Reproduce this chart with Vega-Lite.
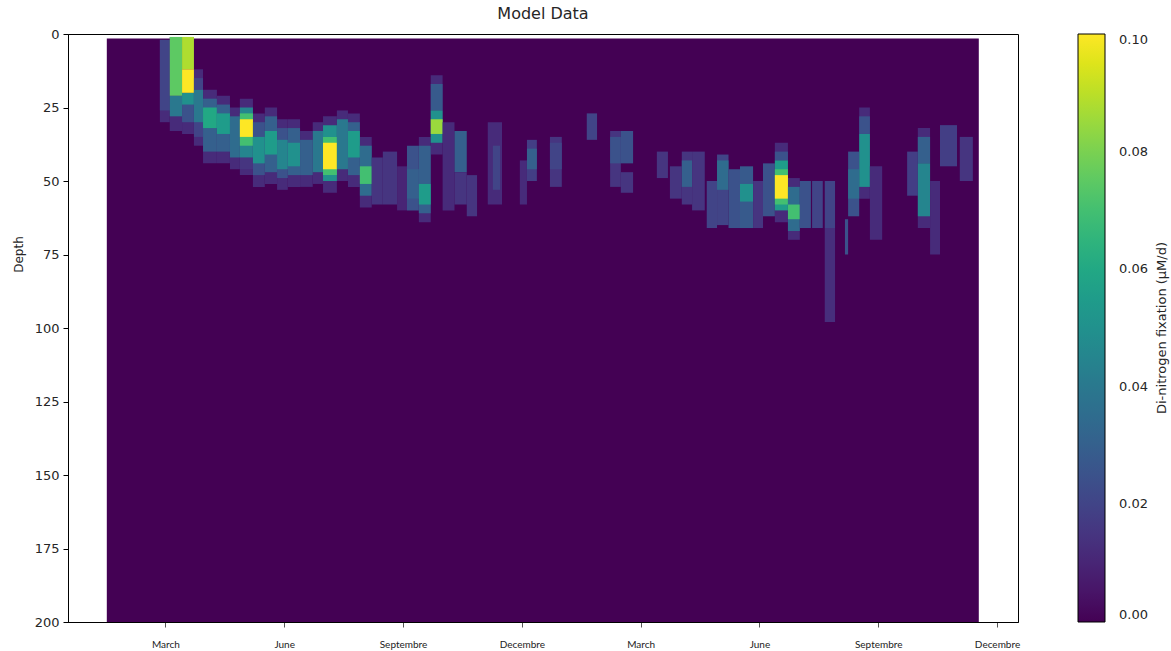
{
  "$schema": "https://vega.github.io/schema/vega-lite/v6.json",
  "autosize": {"type": "none"},
  "width": 950,
  "height": 588,
  "padding": {"left": 68, "top": 34, "right": 153, "bottom": 29},
  "title": {"text": "Model Data", "font": "DejaVu Sans", "fontSize": 16, "fontWeight": "normal", "color": "#262626", "offset": 6},
  "config": {
    "view": {"stroke": "#000", "strokeWidth": 1},
    "font": "DejaVu Sans"
  },
  "data": {"values": [
    {"from": 0.52, "to": 22.54, "top": 1.5, "bottom": 200, "value": 0},
    {"from": 1.86, "to": 2.11, "top": 2, "bottom": 30, "value": 0.012},
    {"from": 2.11, "to": 2.42, "top": 1, "bottom": 33, "value": 0.012},
    {"from": 2.42, "to": 2.72, "top": 1, "bottom": 34, "value": 0.012},
    {"from": 2.72, "to": 2.95, "top": 12, "bottom": 38, "value": 0.012},
    {"from": 2.95, "to": 3.30, "top": 19, "bottom": 44, "value": 0.012},
    {"from": 3.30, "to": 3.63, "top": 21, "bottom": 44, "value": 0.012},
    {"from": 3.63, "to": 3.88, "top": 25, "bottom": 46, "value": 0.012},
    {"from": 3.88, "to": 4.21, "top": 22, "bottom": 48, "value": 0.012},
    {"from": 4.21, "to": 4.51, "top": 27, "bottom": 52, "value": 0.012},
    {"from": 4.51, "to": 4.82, "top": 25, "bottom": 51, "value": 0.012},
    {"from": 4.82, "to": 5.09, "top": 29, "bottom": 53, "value": 0.012},
    {"from": 5.09, "to": 5.40, "top": 29, "bottom": 52, "value": 0.012},
    {"from": 5.40, "to": 5.72, "top": 33, "bottom": 52, "value": 0.012},
    {"from": 5.72, "to": 5.98, "top": 30, "bottom": 51, "value": 0.012},
    {"from": 5.98, "to": 6.33, "top": 28, "bottom": 54, "value": 0.012},
    {"from": 6.33, "to": 6.61, "top": 26, "bottom": 50, "value": 0.012},
    {"from": 6.61, "to": 6.91, "top": 27, "bottom": 52, "value": 0.012},
    {"from": 6.91, "to": 7.21, "top": 35, "bottom": 59, "value": 0.012},
    {"from": 8.40, "to": 8.70, "top": 35, "bottom": 64, "value": 0.012},
    {"from": 8.70, "to": 9.00, "top": 14, "bottom": 41, "value": 0.012},
    {"from": 17.39, "to": 17.72, "top": 37, "bottom": 64, "value": 0.012},
    {"from": 17.72, "to": 18.02, "top": 49, "bottom": 70, "value": 0.012},
    {"from": 19.52, "to": 19.79, "top": 25, "bottom": 56, "value": 0.012},
    {"from": 21.00, "to": 21.31, "top": 32, "bottom": 66, "value": 0.012},
    {"from": 1.86, "to": 2.11, "top": 2, "bottom": 26, "value": 0.02},
    {"from": 2.11, "to": 2.42, "top": 21, "bottom": 28, "value": 0.04},
    {"from": 2.11, "to": 2.42, "top": 1, "bottom": 21, "value": 0.075},
    {"from": 2.42, "to": 2.72, "top": 20, "bottom": 30, "value": 0.025},
    {"from": 2.42, "to": 2.72, "top": 20, "bottom": 24, "value": 0.05},
    {"from": 2.42, "to": 2.72, "top": 1, "bottom": 12, "value": 0.088},
    {"from": 2.42, "to": 2.72, "top": 12, "bottom": 20, "value": 0.1},
    {"from": 2.72, "to": 2.95, "top": 15, "bottom": 35, "value": 0.02},
    {"from": 2.72, "to": 2.95, "top": 19, "bottom": 30, "value": 0.04},
    {"from": 2.95, "to": 3.30, "top": 22, "bottom": 40, "value": 0.03},
    {"from": 2.95, "to": 3.30, "top": 25, "bottom": 32, "value": 0.06},
    {"from": 3.30, "to": 3.63, "top": 24, "bottom": 40, "value": 0.03},
    {"from": 3.30, "to": 3.63, "top": 27, "bottom": 34, "value": 0.055},
    {"from": 3.63, "to": 3.88, "top": 28, "bottom": 42, "value": 0.035},
    {"from": 3.88, "to": 4.21, "top": 42, "bottom": 46, "value": 0.015},
    {"from": 3.88, "to": 4.21, "top": 25, "bottom": 42, "value": 0.045},
    {"from": 3.88, "to": 4.21, "top": 27, "bottom": 38, "value": 0.07},
    {"from": 3.88, "to": 4.21, "top": 29, "bottom": 35, "value": 0.1},
    {"from": 4.21, "to": 4.51, "top": 30, "bottom": 48, "value": 0.025},
    {"from": 4.21, "to": 4.51, "top": 35, "bottom": 44, "value": 0.05},
    {"from": 4.51, "to": 4.82, "top": 28, "bottom": 47, "value": 0.03},
    {"from": 4.51, "to": 4.82, "top": 33, "bottom": 41, "value": 0.055},
    {"from": 4.82, "to": 5.09, "top": 32, "bottom": 49, "value": 0.025},
    {"from": 4.82, "to": 5.09, "top": 36, "bottom": 46, "value": 0.045},
    {"from": 5.09, "to": 5.40, "top": 32, "bottom": 48, "value": 0.03},
    {"from": 5.09, "to": 5.40, "top": 37, "bottom": 45, "value": 0.05},
    {"from": 5.40, "to": 5.72, "top": 36, "bottom": 48, "value": 0.03},
    {"from": 5.72, "to": 5.98, "top": 33, "bottom": 47, "value": 0.04},
    {"from": 5.98, "to": 6.33, "top": 31, "bottom": 50, "value": 0.05},
    {"from": 5.98, "to": 6.33, "top": 35, "bottom": 48, "value": 0.07},
    {"from": 5.98, "to": 6.33, "top": 37, "bottom": 46, "value": 0.1},
    {"from": 6.33, "to": 6.61, "top": 29, "bottom": 46, "value": 0.04},
    {"from": 6.61, "to": 6.91, "top": 30, "bottom": 48, "value": 0.03},
    {"from": 6.61, "to": 6.91, "top": 33, "bottom": 42, "value": 0.055},
    {"from": 6.91, "to": 7.21, "top": 38, "bottom": 55, "value": 0.035},
    {"from": 6.91, "to": 7.21, "top": 45, "bottom": 51, "value": 0.07},
    {"from": 7.21, "to": 7.49, "top": 42, "bottom": 58, "value": 0.015},
    {"from": 7.49, "to": 7.85, "top": 40, "bottom": 58, "value": 0.015},
    {"from": 7.85, "to": 8.10, "top": 45, "bottom": 60, "value": 0.01},
    {"from": 8.10, "to": 8.40, "top": 38, "bottom": 60, "value": 0.025},
    {"from": 8.10, "to": 8.40, "top": 46, "bottom": 56, "value": 0.03},
    {"from": 8.40, "to": 8.70, "top": 38, "bottom": 61, "value": 0.03},
    {"from": 8.40, "to": 8.70, "top": 51, "bottom": 58, "value": 0.055},
    {"from": 8.70, "to": 9.00, "top": 17, "bottom": 26, "value": 0.028},
    {"from": 8.70, "to": 9.00, "top": 26, "bottom": 37, "value": 0.05},
    {"from": 8.70, "to": 9.00, "top": 29, "bottom": 34, "value": 0.085},
    {"from": 9.00, "to": 9.30, "top": 30, "bottom": 60, "value": 0.012},
    {"from": 9.30, "to": 9.61, "top": 33, "bottom": 47, "value": 0.03},
    {"from": 9.30, "to": 9.61, "top": 47, "bottom": 58, "value": 0.015},
    {"from": 9.61, "to": 9.87, "top": 48, "bottom": 62, "value": 0.015},
    {"from": 10.14, "to": 10.50, "top": 30, "bottom": 58, "value": 0.012},
    {"from": 10.27, "to": 10.45, "top": 38, "bottom": 53, "value": 0.02},
    {"from": 10.95, "to": 11.13, "top": 43, "bottom": 58, "value": 0.012},
    {"from": 11.13, "to": 11.38, "top": 36, "bottom": 50, "value": 0.018},
    {"from": 11.13, "to": 11.38, "top": 39, "bottom": 46, "value": 0.03},
    {"from": 11.71, "to": 12.01, "top": 35, "bottom": 52, "value": 0.015},
    {"from": 11.71, "to": 12.01, "top": 37, "bottom": 46, "value": 0.02},
    {"from": 12.64, "to": 12.90, "top": 27, "bottom": 36, "value": 0.02},
    {"from": 13.23, "to": 13.50, "top": 33, "bottom": 52, "value": 0.015},
    {"from": 13.23, "to": 13.50, "top": 35, "bottom": 44, "value": 0.025},
    {"from": 13.50, "to": 13.81, "top": 33, "bottom": 44, "value": 0.025},
    {"from": 13.50, "to": 13.81, "top": 47, "bottom": 54, "value": 0.015},
    {"from": 14.41, "to": 14.69, "top": 40, "bottom": 49, "value": 0.015},
    {"from": 14.74, "to": 15.04, "top": 45, "bottom": 56, "value": 0.015},
    {"from": 15.04, "to": 15.30, "top": 40, "bottom": 58, "value": 0.015},
    {"from": 15.04, "to": 15.30, "top": 43, "bottom": 52, "value": 0.03},
    {"from": 15.30, "to": 15.62, "top": 40, "bottom": 60, "value": 0.015},
    {"from": 15.67, "to": 15.93, "top": 50, "bottom": 66, "value": 0.02},
    {"from": 15.93, "to": 16.22, "top": 41, "bottom": 65, "value": 0.02},
    {"from": 15.93, "to": 16.22, "top": 43, "bottom": 53, "value": 0.035},
    {"from": 16.22, "to": 16.51, "top": 46, "bottom": 66, "value": 0.025},
    {"from": 16.51, "to": 16.84, "top": 45, "bottom": 66, "value": 0.028},
    {"from": 16.51, "to": 16.84, "top": 51, "bottom": 57, "value": 0.05},
    {"from": 16.84, "to": 17.09, "top": 50, "bottom": 66, "value": 0.015},
    {"from": 17.09, "to": 17.39, "top": 44, "bottom": 62, "value": 0.025},
    {"from": 17.39, "to": 17.72, "top": 40, "bottom": 43, "value": 0.025},
    {"from": 17.39, "to": 17.72, "top": 43, "bottom": 60, "value": 0.055},
    {"from": 17.39, "to": 17.72, "top": 46, "bottom": 58, "value": 0.07},
    {"from": 17.39, "to": 17.72, "top": 48, "bottom": 56, "value": 0.1},
    {"from": 17.72, "to": 18.02, "top": 52, "bottom": 67, "value": 0.035},
    {"from": 17.72, "to": 18.02, "top": 58, "bottom": 63, "value": 0.07},
    {"from": 18.02, "to": 18.30, "top": 50, "bottom": 66, "value": 0.025},
    {"from": 18.33, "to": 18.60, "top": 50, "bottom": 66, "value": 0.02},
    {"from": 18.65, "to": 18.91, "top": 50, "bottom": 66, "value": 0.02},
    {"from": 18.65, "to": 18.91, "top": 66, "bottom": 98, "value": 0.013},
    {"from": 19.16, "to": 19.24, "top": 63, "bottom": 75, "value": 0.025},
    {"from": 19.24, "to": 19.52, "top": 40, "bottom": 62, "value": 0.025},
    {"from": 19.24, "to": 19.52, "top": 46, "bottom": 56, "value": 0.035},
    {"from": 19.52, "to": 19.79, "top": 28, "bottom": 34, "value": 0.025},
    {"from": 19.52, "to": 19.79, "top": 34, "bottom": 52, "value": 0.05},
    {"from": 19.79, "to": 20.10, "top": 45, "bottom": 70, "value": 0.012},
    {"from": 20.73, "to": 21.00, "top": 40, "bottom": 55, "value": 0.018},
    {"from": 21.00, "to": 21.31, "top": 35, "bottom": 44, "value": 0.03},
    {"from": 21.00, "to": 21.31, "top": 44, "bottom": 62, "value": 0.045},
    {"from": 21.31, "to": 21.56, "top": 50, "bottom": 75, "value": 0.012},
    {"from": 21.56, "to": 21.99, "top": 31, "bottom": 45, "value": 0.018},
    {"from": 22.06, "to": 22.39, "top": 35, "bottom": 50, "value": 0.015}
  ]},
  "mark": {"type": "rect"},
  "encoding": {
    "x": {
      "field": "from", "type": "quantitative",
      "scale": {"domain": [-0.46, 23.53], "nice": false, "zero": false},
      "axis": {
        "title": null, "grid": false,
        "values": [2, 5, 8, 11, 14, 17, 20, 23],
        "labelExpr": "datum.value % 12 == 2 ? 'March' : datum.value % 12 == 5 ? 'June' : datum.value % 12 == 8 ? 'Septembre' : 'Decembre'",
        "labelFont": "Lato", "labelFontSize": 10, "labelColor": "#222",
        "labelPadding": 12, "tickSize": 5, "tickColor": "#555",
        "domainColor": "#000", "labelFlush": false
      }
    },
    "x2": {"field": "to"},
    "y": {
      "field": "top", "type": "quantitative",
      "scale": {"domain": [0, 200], "reverse": true, "nice": false, "zero": false},
      "axis": {
        "title": "Depth", "grid": false,
        "values": [0, 25, 50, 75, 100, 125, 150, 175, 200],
        "labelFont": "DejaVu Sans", "labelFontSize": 13, "labelColor": "#262626",
        "labelPadding": 4, "tickSize": 5, "tickColor": "#000", "domainColor": "#000",
        "labelFlush": false,
        "titleFont": "DejaVu Sans", "titleFontSize": 12, "titleFontWeight": "normal", "titleColor": "#262626",
        "titleX": -50, "titleY": 220, "titleBaseline": "middle"
      }
    },
    "y2": {"field": "bottom"},
    "color": {
      "field": "value", "type": "quantitative",
      "scale": {"scheme": "viridis", "domain": [0, 0.1], "clamp": true},
      "legend": {
        "title": "Di-nitrogen fixation (μM/d)",
        "direction": "vertical",
        "offset": 60,
        "gradientLength": 588, "gradientThickness": 27,
        "gradientStrokeColor": "#000", "gradientStrokeWidth": 1,
        "values": [0, 0.02, 0.04, 0.06, 0.08, 0.1],
        "format": ".2f",
        "labelFont": "DejaVu Sans", "labelFontSize": 13, "labelColor": "#262626",
        "labelOffset": 14, "labelBaseline": "middle", "labelOverlap": false,
        "titleFont": "DejaVu Sans", "titleFontSize": 13, "titleFontWeight": "normal", "titleColor": "#262626",
        "titleOrient": "right", "titleAnchor": "middle", "titlePadding": 8, "titleBaseline": "top",
        "encode": {"title": {"update": {"angle": {"value": -90}}}}
      }
    }
  }
}
